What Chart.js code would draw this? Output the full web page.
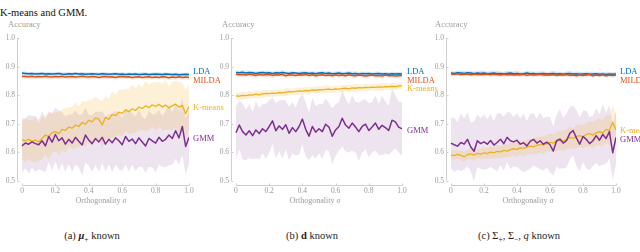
<!DOCTYPE html>
<html>
<head>
<meta charset="utf-8">
<title>Accuracy vs orthogonality</title>
<style>
  body { margin: 0; width: 640px; height: 252px; overflow: hidden; background: #fff; position: relative;
         font-family: "Liberation Serif", "DejaVu Serif", serif; }
  canvas { position: absolute; }
  .t { position: absolute; white-space: nowrap; line-height: 1; font-weight: normal; }
  .g { color: #9a9a9a; font-size: 8.5px; }
  .ax { color: #9a9a9a; font-size: 8px; transform: translateX(-50%); }
  .lab { font-size: 8.5px; }
  .cap { font-size: 10.5px; color: #222; transform: translateX(-50%); }
</style>
</head>
<body>
<div class="t" style="left:0;top:8px;font-size:10.5px;color:#111">K-means and GMM.</div>

<canvas id="chartA" width="215" height="175" style="left:0;top:30px"></canvas>
<canvas id="chartB" width="215" height="175" style="left:214px;top:30px"></canvas>
<canvas id="chartC" width="215" height="175" style="left:429px;top:30px"></canvas>

<div class="t g" style="left:8px;top:20px">Accuracy</div>
<div class="t g" style="left:222px;top:20px">Accuracy</div>
<div class="t g" style="left:435px;top:20px">Accuracy</div>

<div class="t ax" style="left:101px;top:197px">Orthogonality <i>σ</i></div>
<div class="t ax" style="left:315px;top:197px">Orthogonality <i>σ</i></div>
<div class="t ax" style="left:528px;top:197px">Orthogonality <i>σ</i></div>

<div class="t cap" style="left:92px;top:231px">(a) <b><i>μ</i></b><sub style="font-size:7.5px">+</sub> known</div>
<div class="t cap" style="left:312px;top:231px">(b) <b>d</b> known</div>
<div class="t cap" style="left:519px;top:231px">(c) Σ<sub style="font-size:7.5px">+</sub>, Σ<sub style="font-size:7.5px">−</sub>, <i>q</i> known</div>

<div class="t lab" style="left:193px;top:67px;color:#0072BD">LDA</div>
<div class="t lab" style="left:193px;top:76px;color:#D95319">MILDA</div>
<div class="t lab" style="left:193px;top:103px;color:#EDB120">K-means</div>
<div class="t lab" style="left:193px;top:134px;color:#7E2F8E">GMM</div>

<div class="t lab" style="left:407px;top:67px;color:#0072BD">LDA</div>
<div class="t lab" style="left:407px;top:76px;color:#D95319">MILDA</div>
<div class="t lab" style="left:407px;top:84px;color:#EDB120">K-means</div>
<div class="t lab" style="left:407px;top:126px;color:#7E2F8E">GMM</div>

<div class="t lab" style="left:620px;top:67px;color:#0072BD">LDA</div>
<div class="t lab" style="left:620px;top:76px;color:#D95319">MILDA</div>
<div class="t lab" style="left:620px;top:126px;color:#EDB120">K-means</div>
<div class="t lab" style="left:620px;top:135px;color:#7E2F8E">GMM</div>

<script src="https://cdn.jsdelivr.net/npm/chart.js@4.4.1/dist/chart.umd.min.js"></script>
<script>
const sigma = [0,0.02,0.04,0.06,0.08,0.1,0.12,0.14,0.16,0.18,
  0.2,0.22,0.24,0.26,0.28,0.3,0.32,0.34,0.36,0.38,
  0.4,0.42,0.44,0.46,0.48,0.5,0.52,0.54,0.56,0.58,
  0.6,0.62,0.64,0.66,0.68,0.7,0.72,0.74,0.76,0.78,
  0.8,0.82,0.84,0.86,0.88,0.9,0.92,0.94,0.96,0.98,1];
const xTicks = [0, 0.2, 0.4, 0.6, 0.8, 1];
const yTicks = [0.5, 0.6, 0.7, 0.8, 0.9, 1];

// (a) mu+ known
const aLDA = [.877,.876,.875,.876,.874,.875,.876,.874,.875,.874,
  .875,.876,.874,.873,.875,.874,.876,.874,.875,.873,
  .874,.875,.874,.873,.875,.874,.873,.874,.875,.873,
  .874,.872,.874,.873,.874,.872,.873,.874,.872,.873,
  .874,.873,.872,.874,.873,.872,.873,.871,.872,.873,.872];
const aLDAsd = [.006,.007,.006,.006,.007,.006,.005,.006,.007,.006,
  .006,.005,.006,.007,.006,.006,.005,.006,.006,.007,
  .006,.006,.005,.006,.007,.006,.006,.005,.006,.006,
  .007,.006,.006,.005,.006,.006,.007,.006,.005,.006,
  .006,.007,.006,.006,.005,.006,.006,.007,.006,.006,.006];
const aMILDA = [.866,.865,.864,.866,.863,.865,.864,.866,.864,.863,
  .865,.864,.866,.863,.864,.865,.863,.864,.866,.864,
  .863,.865,.864,.862,.864,.865,.863,.864,.862,.864,
  .865,.863,.864,.862,.863,.864,.862,.863,.864,.862,
  .863,.862,.864,.863,.861,.863,.862,.864,.862,.863,.862];
const aMILDAsd = [.008,.007,.008,.009,.008,.007,.008,.008,.009,.008,
  .007,.008,.008,.007,.009,.008,.008,.007,.008,.008,
  .009,.008,.007,.008,.008,.009,.008,.007,.008,.008,
  .008,.007,.008,.009,.008,.008,.007,.008,.009,.008,
  .008,.008,.007,.008,.009,.008,.008,.007,.008,.008,.008];
const aKM = [.643,.640,.645,.638,.642,.636,.648,.660,.655,.668,
  .672,.665,.680,.676,.688,.684,.695,.690,.704,.698,
  .712,.706,.720,.716,.695,.722,.715,.732,.728,.740,
  .736,.748,.742,.752,.746,.758,.753,.762,.756,.766,
  .760,.768,.758,.765,.755,.763,.768,.758,.764,.735,.760];
const aKMsd = [.070,.075,.068,.072,.078,.066,.074,.070,.080,.072,
  .068,.076,.071,.079,.069,.074,.082,.070,.075,.078,
  .072,.080,.074,.069,.083,.076,.072,.081,.075,.078,
  .084,.074,.079,.086,.077,.082,.075,.088,.080,.078,
  .085,.079,.083,.087,.076,.084,.081,.089,.078,.083,.080];
const aGMM = [.622,.632,.628,.636,.630,.626,.640,.622,.655,.635,
  .662,.640,.650,.628,.645,.632,.652,.638,.625,.660,
  .642,.630,.648,.636,.652,.628,.645,.633,.650,.640,
  .626,.655,.638,.646,.630,.650,.636,.622,.648,.640,
  .632,.652,.638,.645,.660,.648,.675,.650,.690,.620,.652];
const aGMMsd = [.095,.088,.102,.091,.098,.086,.104,.093,.089,.100,
  .094,.106,.090,.097,.087,.101,.095,.092,.108,.096,
  .089,.099,.093,.105,.091,.097,.088,.103,.094,.100,
  .092,.098,.107,.090,.096,.101,.088,.094,.099,.093,
  .103,.095,.090,.098,.106,.092,.099,.094,.101,.097,.095];

// (b) d known
const bLDA = [.879,.878,.880,.877,.879,.878,.876,.878,.879,.877,
  .878,.876,.878,.877,.879,.877,.876,.878,.877,.876,
  .877,.878,.876,.877,.875,.877,.878,.876,.877,.875,
  .876,.877,.875,.876,.877,.875,.876,.874,.876,.875,
  .876,.874,.875,.876,.874,.875,.873,.875,.874,.875,.874];
const bLDAsd = [.007,.006,.007,.008,.007,.006,.007,.007,.006,.008,
  .007,.006,.007,.007,.008,.006,.007,.007,.006,.007,
  .008,.007,.006,.007,.007,.006,.008,.007,.007,.006,
  .007,.008,.007,.006,.007,.007,.008,.006,.007,.007,
  .006,.007,.008,.007,.006,.007,.007,.008,.007,.006,.007];
const bMILDA = [.873,.871,.872,.870,.873,.871,.869,.872,.870,.871,
  .872,.869,.871,.870,.872,.868,.871,.870,.869,.871,
  .870,.872,.869,.871,.868,.870,.871,.869,.870,.868,
  .871,.869,.870,.868,.871,.869,.868,.870,.869,.867,
  .869,.870,.868,.869,.867,.870,.868,.869,.867,.868,.869];
const bMILDAsd = [.008,.007,.008,.008,.007,.009,.008,.007,.008,.008,
  .009,.008,.007,.008,.008,.007,.008,.009,.008,.007,
  .008,.008,.009,.007,.008,.008,.007,.008,.009,.008,
  .007,.008,.008,.009,.007,.008,.008,.007,.008,.009,
  .008,.007,.008,.008,.009,.007,.008,.008,.007,.008,.008];
const bKM = [.797,.796,.799,.798,.801,.800,.803,.801,.804,.806,
  .805,.807,.806,.809,.808,.810,.812,.811,.813,.815,
  .814,.816,.815,.818,.817,.819,.818,.820,.821,.819,
  .822,.821,.823,.824,.822,.825,.824,.826,.825,.827,
  .826,.828,.827,.829,.828,.830,.829,.831,.830,.832,.832];
const bKMsd = [.013,.012,.014,.012,.013,.011,.013,.012,.014,.012,
  .012,.013,.011,.013,.012,.014,.012,.011,.013,.012,
  .013,.012,.014,.011,.012,.013,.012,.014,.012,.011,
  .012,.013,.012,.011,.013,.012,.014,.012,.011,.013,
  .012,.011,.013,.012,.014,.012,.011,.013,.012,.012,.012];
const bGMM = [.668,.695,.672,.660,.675,.658,.678,.665,.682,.672,
  .690,.710,.675,.692,.680,.696,.666,.686,.672,.690,
  .716,.680,.656,.690,.670,.682,.672,.698,.688,.656,
  .678,.690,.719,.695,.684,.702,.688,.672,.690,.698,
  .676,.688,.702,.680,.694,.686,.676,.712,.706,.688,.682];
const bGMMsd = [.092,.085,.098,.088,.095,.083,.100,.090,.087,.096,
  .093,.081,.097,.089,.102,.086,.094,.091,.084,.099,
  .088,.095,.083,.101,.092,.087,.096,.090,.085,.098,
  .091,.086,.099,.093,.084,.097,.089,.102,.092,.087,
  .095,.088,.096,.090,.104,.091,.086,.110,.093,.089,.094];

// (c) Sigma+, Sigma-, q known
const cLDA = [.877,.876,.878,.877,.876,.878,.877,.875,.877,.876,
  .877,.875,.876,.877,.875,.876,.874,.876,.877,.875,
  .876,.874,.875,.877,.875,.876,.874,.875,.876,.874,
  .875,.876,.874,.875,.873,.875,.876,.874,.875,.873,
  .874,.875,.873,.874,.875,.873,.874,.872,.874,.873,.874];
const cLDAsd = [.008,.007,.008,.009,.008,.007,.008,.008,.007,.009,
  .008,.007,.008,.008,.009,.007,.008,.008,.007,.008,
  .009,.008,.007,.008,.008,.007,.009,.008,.008,.007,
  .008,.009,.008,.007,.008,.008,.009,.007,.008,.008,
  .007,.008,.009,.008,.007,.008,.008,.009,.008,.007,.008];
const cMILDA = [.874,.873,.875,.872,.874,.873,.871,.874,.872,.873,
  .872,.874,.871,.873,.872,.870,.873,.871,.872,.870,
  .872,.871,.873,.869,.872,.870,.871,.873,.870,.871,
  .870,.872,.869,.871,.870,.872,.869,.870,.868,.871,
  .869,.870,.872,.868,.870,.869,.871,.868,.870,.869,.870];
const cMILDAsd = [.007,.008,.007,.007,.008,.006,.007,.008,.007,.007,
  .008,.007,.006,.007,.008,.007,.007,.008,.007,.006,
  .007,.008,.007,.007,.006,.008,.007,.007,.008,.007,
  .006,.007,.008,.007,.007,.008,.006,.007,.007,.008,
  .007,.007,.006,.008,.007,.007,.008,.007,.006,.007,.007];
const cKM = [.590,.588,.592,.589,.584,.591,.594,.590,.596,.593,
  .598,.595,.600,.598,.603,.601,.606,.604,.609,.612,
  .610,.615,.613,.618,.621,.619,.624,.627,.625,.630,
  .634,.632,.638,.641,.639,.645,.652,.648,.655,.658,
  .654,.662,.665,.660,.668,.672,.667,.680,.676,.705,.678];
const cKMsd = [.016,.018,.015,.017,.019,.016,.018,.020,.017,.019,
  .021,.019,.022,.020,.023,.021,.024,.022,.025,.023,
  .026,.024,.027,.025,.028,.027,.030,.028,.031,.029,
  .032,.031,.034,.033,.036,.035,.038,.037,.040,.039,
  .042,.041,.044,.046,.045,.048,.047,.050,.052,.058,.055];
const cGMM = [.632,.626,.621,.634,.628,.645,.618,.603,.640,.630,
  .636,.628,.641,.625,.634,.645,.630,.652,.640,.636,
  .642,.628,.633,.622,.638,.645,.632,.640,.628,.635,
  .626,.604,.640,.646,.632,.640,.666,.676,.650,.628,
  .655,.645,.630,.640,.658,.642,.662,.648,.672,.598,.652];
const cGMMsd = [.088,.096,.083,.101,.090,.094,.086,.105,.092,.089,
  .098,.087,.093,.084,.102,.091,.095,.088,.099,.086,
  .094,.090,.103,.087,.096,.092,.085,.100,.093,.089,
  .097,.086,.091,.104,.088,.095,.092,.087,.099,.094,
  .090,.101,.093,.088,.096,.091,.106,.089,.094,.098,.092];

const colors = {
  LDA:   { line: '#0072BD', band: 'rgba(0,114,189,0.16)' },
  MILDA: { line: '#D95319', band: 'rgba(217,83,25,0.13)' },
  KM:    { line: '#EDB120', band: 'rgba(237,177,32,0.18)' },
  GMM:   { line: '#7E2F8E', band: 'rgba(126,47,142,0.13)' },
};

const pts = (arr) => arr.map((v, i) => ({ x: sigma[i], y: v }));

function lineSet(arr, key, w) {
  return { data: pts(arr), borderColor: colors[key].line, borderWidth: w,
           pointRadius: 0, tension: 0, fill: false, borderJoinStyle: 'round' };
}
function bandSets(mean, sd, key) {
  const hi = mean.map((m, i) => m + sd[i]);
  const lo = mean.map((m, i) => m - sd[i]);
  return [
    { data: pts(hi), borderWidth: 0, pointRadius: 0, fill: false, borderColor: 'transparent' },
    { data: pts(lo), borderWidth: 0, pointRadius: 0, fill: '-1', borderColor: 'transparent',
      backgroundColor: colors[key].band },
  ];
}

// axes drawn as a range frame (only between first and last tick)
const rangeFrame = {
  id: 'rangeFrame',
  beforeDatasetsDraw(chart) {
    const { ctx, scales: { x, y } } = chart;
    ctx.save();
    ctx.strokeStyle = '#cfcfcf';
    ctx.lineWidth = 1;
    const ax = Math.round(x.left) + 0.5;
    const ay = Math.round(y.bottom) + 0.5;
    ctx.beginPath();
    ctx.moveTo(ax, y.getPixelForValue(0.5));
    ctx.lineTo(ax, y.getPixelForValue(1));
    yTicks.forEach(v => {
      const p = Math.round(y.getPixelForValue(v)) + 0.5;
      ctx.moveTo(ax, p); ctx.lineTo(ax + 2, p);
    });
    ctx.moveTo(x.getPixelForValue(0), ay);
    ctx.lineTo(x.getPixelForValue(1), ay);
    xTicks.forEach(v => {
      const p = Math.round(x.getPixelForValue(v)) + 0.5;
      ctx.moveTo(p, ay); ctx.lineTo(p, ay - 2);
    });
    ctx.stroke();
    ctx.restore();
  }
};

const tickFont = { family: '"Liberation Serif", serif', size: 7.5 };

function makeChart(id, d, padRight) {
  new Chart(id, {
    type: 'line',
    data: {
      datasets: [
        lineSet(d.MILDA, 'MILDA', 1.5),
        lineSet(d.LDA, 'LDA', 1.5),
        lineSet(d.GMM, 'GMM', 1.5),
        lineSet(d.KM, 'KM', 1.3),
        ...bandSets(d.LDA, d.LDAsd, 'LDA'),
        ...bandSets(d.MILDA, d.MILDAsd, 'MILDA'),
        ...bandSets(d.KM, d.KMsd, 'KM'),
        ...bandSets(d.GMM, d.GMMsd, 'GMM'),
      ],
    },
    options: {
      responsive: false,
      animation: false,
      devicePixelRatio: 1,
      layout: { padding: { left: 0, right: padRight, top: 8, bottom: 0 } },
      plugins: { legend: { display: false }, tooltip: { enabled: false } },
      scales: {
        x: {
          type: 'linear', min: -0.03, max: 1,
          grid: { display: false, drawTicks: false }, border: { display: false },
          afterBuildTicks: (s) => { s.ticks = xTicks.map(v => ({ value: v })); },
          afterFit: (s) => { s.height = 20; },
          ticks: { color: '#9a9a9a', font: tickFont, padding: 2, maxRotation: 0 },
        },
        y: {
          min: 0.485, max: 1,
          grid: { display: false, drawTicks: false }, border: { display: false },
          afterBuildTicks: (s) => { s.ticks = yTicks.map(v => ({ value: v })); },
          afterFit: (s) => { s.width = 17; },
          ticks: { color: '#9a9a9a', font: tickFont, padding: 2 },
        },
      },
    },
    plugins: [rangeFrame],
  });
}

makeChart('chartA', { LDA: aLDA, LDAsd: aLDAsd, MILDA: aMILDA, MILDAsd: aMILDAsd,
  KM: aKM, KMsd: aKMsd, GMM: aGMM, GMMsd: aGMMsd }, 26);
makeChart('chartB', { LDA: bLDA, LDAsd: bLDAsd, MILDA: bMILDA, MILDAsd: bMILDAsd,
  KM: bKM, KMsd: bKMsd, GMM: bGMM, GMMsd: bGMMsd }, 27);
makeChart('chartC', { LDA: cLDA, LDAsd: cLDAsd, MILDA: cMILDA, MILDAsd: cMILDAsd,
  KM: cKM, KMsd: cKMsd, GMM: cGMM, GMMsd: cGMMsd }, 28);
</script>
</body>
</html>
